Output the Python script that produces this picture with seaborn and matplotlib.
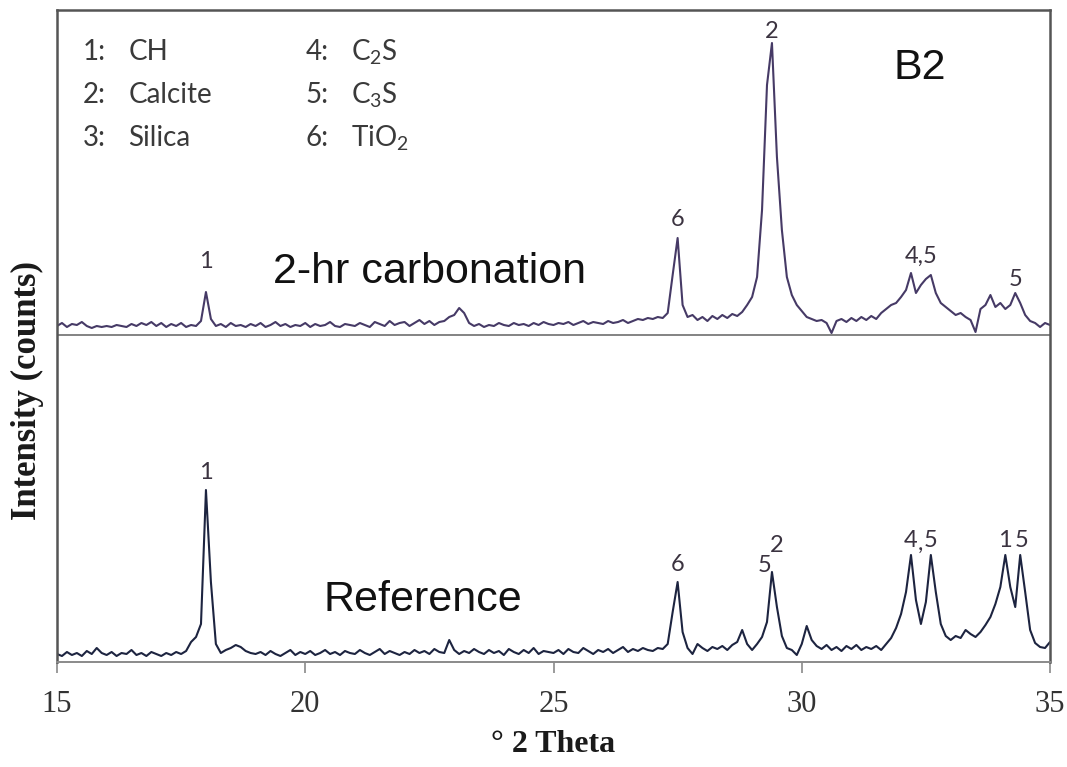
import matplotlib
matplotlib.use("Agg")
import matplotlib.pyplot as plt
import numpy as np
import pandas as pd
import seaborn as sns

# XRD scan: 15-35 deg 2-theta, 0.1 deg step (201 steps)
two_theta = np.linspace(15.0, 35.0, 201)

# 2-hr carbonation trace, counts above the panel divider
carb_counts = [
    9, 12, 8, 11, 10, 13, 9, 7, 9, 8,            # 15
    9, 8, 10, 9, 8, 11, 9, 12, 10, 13,           # 16
    9, 12, 8, 11, 9, 12, 8, 10, 9, 14,           # 17
    43, 16, 9, 11, 8, 12, 9, 10, 8, 11,          # 18
    9, 12, 8, 10, 13, 9, 11, 8, 10, 9,           # 19
    12, 8, 11, 9, 10, 13, 9, 8, 11, 10,          # 20
    9, 12, 10, 8, 13, 11, 9, 14, 10, 12,         # 21
    13, 9, 12, 15, 11, 14, 10, 13, 14, 18,       # 22
    20, 27, 22, 12, 9, 11, 8, 10, 9, 12,         # 23
    10, 9, 12, 10, 11, 9, 12, 10, 13, 11,        # 24
    10, 12, 11, 13, 10, 12, 14, 11, 13, 12,      # 25
    11, 14, 12, 13, 15, 12, 14, 16, 15, 17,      # 26
    16, 18, 17, 22, 60, 97, 30, 18, 20, 15,      # 27
    18, 14, 19, 16, 20, 17, 21, 19, 23, 30,      # 28
    38, 58, 125, 250, 292, 178, 105, 58, 40, 30, # 29
    24, 18, 16, 14, 15, 12, 2, 14, 16, 13,       # 30
    17, 14, 18, 15, 19, 16, 22, 26, 30, 32,      # 31
    38, 45, 62, 42, 50, 56, 60, 42, 32, 28,      # 32
    24, 20, 22, 18, 15, 3, 26, 30, 40, 28,       # 33
    32, 26, 30, 42, 32, 20, 14, 12, 8, 12,       # 34
    10,
]

# Reference trace, counts above the x axis
ref_counts = [
    8, 6, 10, 7, 9, 6, 11, 8, 14, 9,             # 15
    7, 10, 6, 9, 8, 12, 7, 9, 6, 10,             # 16
    8, 6, 9, 7, 10, 8, 11, 20, 25, 38,           # 17
    172, 80, 18, 9, 12, 14, 17, 15, 11, 9,       # 18
    8, 10, 7, 11, 8, 6, 9, 12, 7, 10,            # 19
    8, 11, 7, 9, 12, 8, 10, 7, 11, 9,            # 20
    8, 12, 9, 7, 10, 13, 8, 11, 9, 7,            # 21
    10, 8, 12, 9, 11, 8, 13, 10, 9, 22,          # 22
    12, 8, 11, 9, 13, 10, 8, 12, 9, 11,          # 23
    7, 13, 10, 8, 12, 9, 14, 8, 11, 10,          # 24
    9, 12, 8, 13, 10, 9, 14, 11, 8, 12,          # 25
    10, 13, 9, 12, 15, 10, 13, 11, 14, 12,       # 26
    11, 14, 13, 18, 50, 80, 30, 14, 8, 18,       # 27
    14, 11, 15, 13, 16, 12, 17, 20, 32, 18,      # 28
    12, 18, 25, 40, 90, 55, 26, 14, 12, 7,       # 29
    18, 36, 22, 16, 13, 17, 12, 15, 11, 16,      # 30
    13, 17, 12, 15, 13, 16, 12, 18, 24, 34,      # 31
    48, 70, 107, 62, 38, 60, 107, 70, 38, 26,    # 32
    22, 26, 24, 32, 28, 25, 30, 37, 45, 58,      # 33
    75, 107, 75, 55, 107, 70, 32, 19, 15, 14,    # 34
    20,
]

# peak assignments (phase number, 2-theta)
carb_peak_labels = ["1", "6", "2", "4,5", "5"]
carb_peak_pos = [18.0, 27.5, 29.4, 32.4, 34.3]
ref_peak_labels = ["1", "6", "5", "2", "4", ",", "5", "1", "5"]
ref_peak_pos = [18.0, 27.5, 29.25, 29.5, 32.2, 32.4, 32.6, 34.1, 34.42]

legend_nums = ["1:", "2:", "3:", "4:", "5:", "6:"]
legend_names = ["CH", "Calcite", "Silica", r"C$_\mathrm{2}$S", r"C$_\mathrm{3}$S",
                r"TiO$_\mathrm{2}$"]

# layout / style
TOP_OFFSET = 327
carb_dy = [20, 8, 1, 6, 3]
ref_dy = [7, 7, -4, 16, 4, 0, 4, 4, 4]
CARB_COLOR = "#463a66"
REF_COLOR = "#1d2440"
LABEL_COLOR = "#3b3340"

sns.set_theme(style="white")
plt.rcParams["font.family"] = ["Liberation Sans", "DejaVu Sans"]
plt.rcParams["mathtext.fontset"] = "custom"
plt.rcParams["mathtext.rm"] = "Lato"

df = pd.DataFrame({
    "two_theta": np.concatenate([two_theta, two_theta]),
    "counts": np.concatenate([np.array(carb_counts) + TOP_OFFSET, ref_counts]),
    "sample": ["2-hr carbonation"] * len(two_theta) + ["Reference"] * len(two_theta),
})

fig = plt.figure(figsize=(10.67, 7.67), dpi=100)
ax = fig.add_axes([57 / 1067, 1 - 662 / 767, 993 / 1067, 652 / 767])

sns.lineplot(data=df, x="two_theta", y="counts", hue="sample",
             palette={"2-hr carbonation": CARB_COLOR, "Reference": REF_COLOR},
             estimator=None, sort=False, linewidth=1.5, legend=False, ax=ax)

ax.axhline(TOP_OFFSET, color="#7a7a7a", linewidth=1.3, zorder=1)

ax.set_xlim(15, 35)
ax.set_ylim(0, 652)
ax.set_xticks([15, 20, 25, 30, 35])
ax.set_yticks([])
for s in ax.spines.values():
    s.set_color("#555555")
    s.set_linewidth(1.8)
ax.spines["bottom"].set_color("#8a8a8a")
ax.spines["bottom"].set_linewidth(1.4)
ax.tick_params(axis="x", direction="out", length=8, width=1.2, color="#8a8a8a",
               pad=12, labelsize=22, labelcolor="#333333", bottom=True)
for lab in ax.get_xticklabels():
    lab.set_family("Liberation Serif")

ax.set_xlabel("° 2 Theta", family="Liberation Serif", fontweight="bold",
              fontsize=23, color="#1a1a1a", labelpad=8)
ax.set_ylabel("Intensity (counts)", family="Liberation Serif", fontweight="bold",
              fontsize=25, color="#1a1a1a")
ax.yaxis.set_label_coords(-0.013, 0.417)


def peak_height(counts, pos):
    win = np.abs(two_theta - pos) <= 0.2
    return np.max(np.asarray(counts)[win])


for lab, pos, dy in zip(carb_peak_labels, carb_peak_pos, carb_dy):
    ax.text(pos, TOP_OFFSET + peak_height(carb_counts, pos) + dy, lab,
            ha="center", va="bottom", fontsize=17, color=LABEL_COLOR,
            family=["Lato", "DejaVu Sans"])
for lab, pos, dy in zip(ref_peak_labels, ref_peak_pos, ref_dy):
    ax.text(pos, peak_height(ref_counts, pos) + dy, lab,
            ha="center", va="bottom", fontsize=17, color=LABEL_COLOR,
            family=["Lato", "DejaVu Sans"])

# phase key, two columns
for i, (num, name) in enumerate(zip(legend_nums, legend_names)):
    col, row = divmod(i, 3)
    x0 = 15.52 + col * 4.48
    y0 = 610 - row * 43
    ax.text(x0, y0, num, ha="left", va="center", fontsize=20,
            color="#3a3a3a", family=["Lato", "DejaVu Sans"])
    ax.text(x0 + 0.92, y0, name, ha="left", va="center", fontsize=20,
            color="#3a3a3a", family=["Lato", "DejaVu Sans"])

ax.text(22.51, 390, "2-hr carbonation", ha="center", va="center",
        fontsize=31, color="#111111")
ax.text(22.37, 62, "Reference", ha="center", va="center",
        fontsize=31, color="#111111")
ax.text(32.38, 594, "B2", ha="center", va="center", fontsize=31, color="#111111")

fig.savefig("out.png", dpi=100)
